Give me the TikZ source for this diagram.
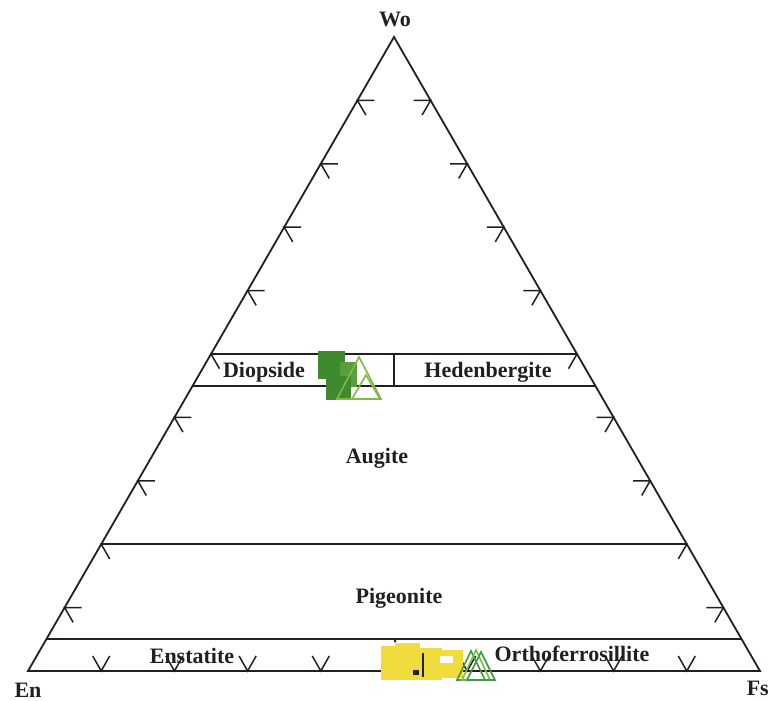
\documentclass[tikz,border=0pt]{standalone}
\usepackage{fontspec}
\setmainfont{Liberation Serif}
\usetikzlibrary{calc}
\definecolor{ink}{HTML}{231F20}
\definecolor{dgreen}{HTML}{3F8A2E}
\definecolor{mgreen}{HTML}{5A9E3C}
\definecolor{lgreen}{HTML}{7DBA4A}
\definecolor{tgreen}{HTML}{3E9A3E}
\definecolor{ylw}{HTML}{F0DC3C}
\begin{document}
\begin{tikzpicture}[x=1pt,y=-1pt,
  edge/.style={draw=ink,line width=1.8pt,line join=miter},
  tickmark/.style={draw=ink,line width=1.5pt},
  lab/.style={font=\fontsize{22}{24}\selectfont\bfseries,text=ink,inner sep=0pt,anchor=base},
  tri/.style={draw=lgreen,line width=1.6pt,fill=none},
  trid/.style={draw=tgreen,line width=1.6pt,fill=none},
]
\useasboundingbox (0,0) rectangle (769,701);
\coordinate (En) at (28,671);
\coordinate (Fs) at (760,671);
\coordinate (Wo) at (394,37);
% ticks
\foreach \f in {0.1,0.2,0.3,0.4,0.5,0.6,0.7,0.8,0.9}{
  \coordinate (L) at ($(En)!\f!(Wo)$);
  \coordinate (R) at ($(Fs)!\f!(Wo)$);
  \coordinate (B) at ($(En)!\f!(Fs)$);
  \draw[tickmark] ($(L)+(17,0)$) -- (L) -- ++(8.5,14.7);
  \draw[tickmark] ($(R)+(-17,0)$) -- (R) -- ++(-8.5,14.7);
  \draw[tickmark] ($(B)+(-8.5,-15)$) -- (B) -- ++(8.5,-15);
}
% field boundaries
\foreach \f in {0.5,0.45,0.2,0.05}{
  \draw[edge] ($(En)!\f!(Wo)$) -- ($(Fs)!\f!(Wo)$);
}
\coordinate (V1) at ($(En)!0.5!(Wo)!0.5!($(Fs)!0.5!(Wo)$)$);
\coordinate (V2) at ($(En)!0.45!(Wo)!0.5!($(Fs)!0.45!(Wo)$)$);
\draw[edge] (V1) -- (V2);
\draw[edge] (En) -- (Fs) -- (Wo) -- cycle;
% labels
\node[lab] (wo) at (395,27) {Wo};
\node[lab] (en) at (28,697) {En};
\node[lab,anchor=base east] (fs) at (769,695) {Fs};
\node[lab] (diop) at (264,377) {Diopside};
\node[lab] (hed) at (488,377) {Hedenbergite};
\node[lab] (aug) at (377,463) {Augite};
\node[lab] (pig) at (399,603) {Pigeonite};
\node[lab] (ens) at (192,663) {Enstatite};
\node[lab] (orth) at (572,661) {Orthoferrosillite};
% diopside cluster
\fill[dgreen] (318,351) rectangle (345,379);
\fill[mgreen] (340,362) rectangle (357,387);
\fill[dgreen] (326,376) rectangle (351,400);
\draw[tri] (359,357) -- (381,399) -- (337,399) -- cycle;
\draw[tri] (366,375) -- (380,399) -- (352,399) -- cycle;
% enstatite cluster
\fill[ylw] (381,646) rectangle (412,680);
\fill[ylw] (395,643) rectangle (420,677);
\fill[ylw] (410,648) rectangle (442,680);
\fill[ylw] (430,650) rectangle (463,678);
\filldraw[fill=white,draw=ylw,line width=1pt] (439,655) rectangle (453,663);
\draw[ink,line width=1.2pt] (423,653) -- (423,677);
\fill[ink] (413,670) rectangle (419,675);
\fill[ink] (395,641) circle (1.5);
\draw[trid] (471,651) -- (485,680) -- (457,680) -- cycle;
\draw[tri] (476,650) -- (490,680) -- (462,680) -- cycle;
\draw[trid] (481,652) -- (495,680) -- (467,680) -- cycle;
\end{tikzpicture}
\end{document}
